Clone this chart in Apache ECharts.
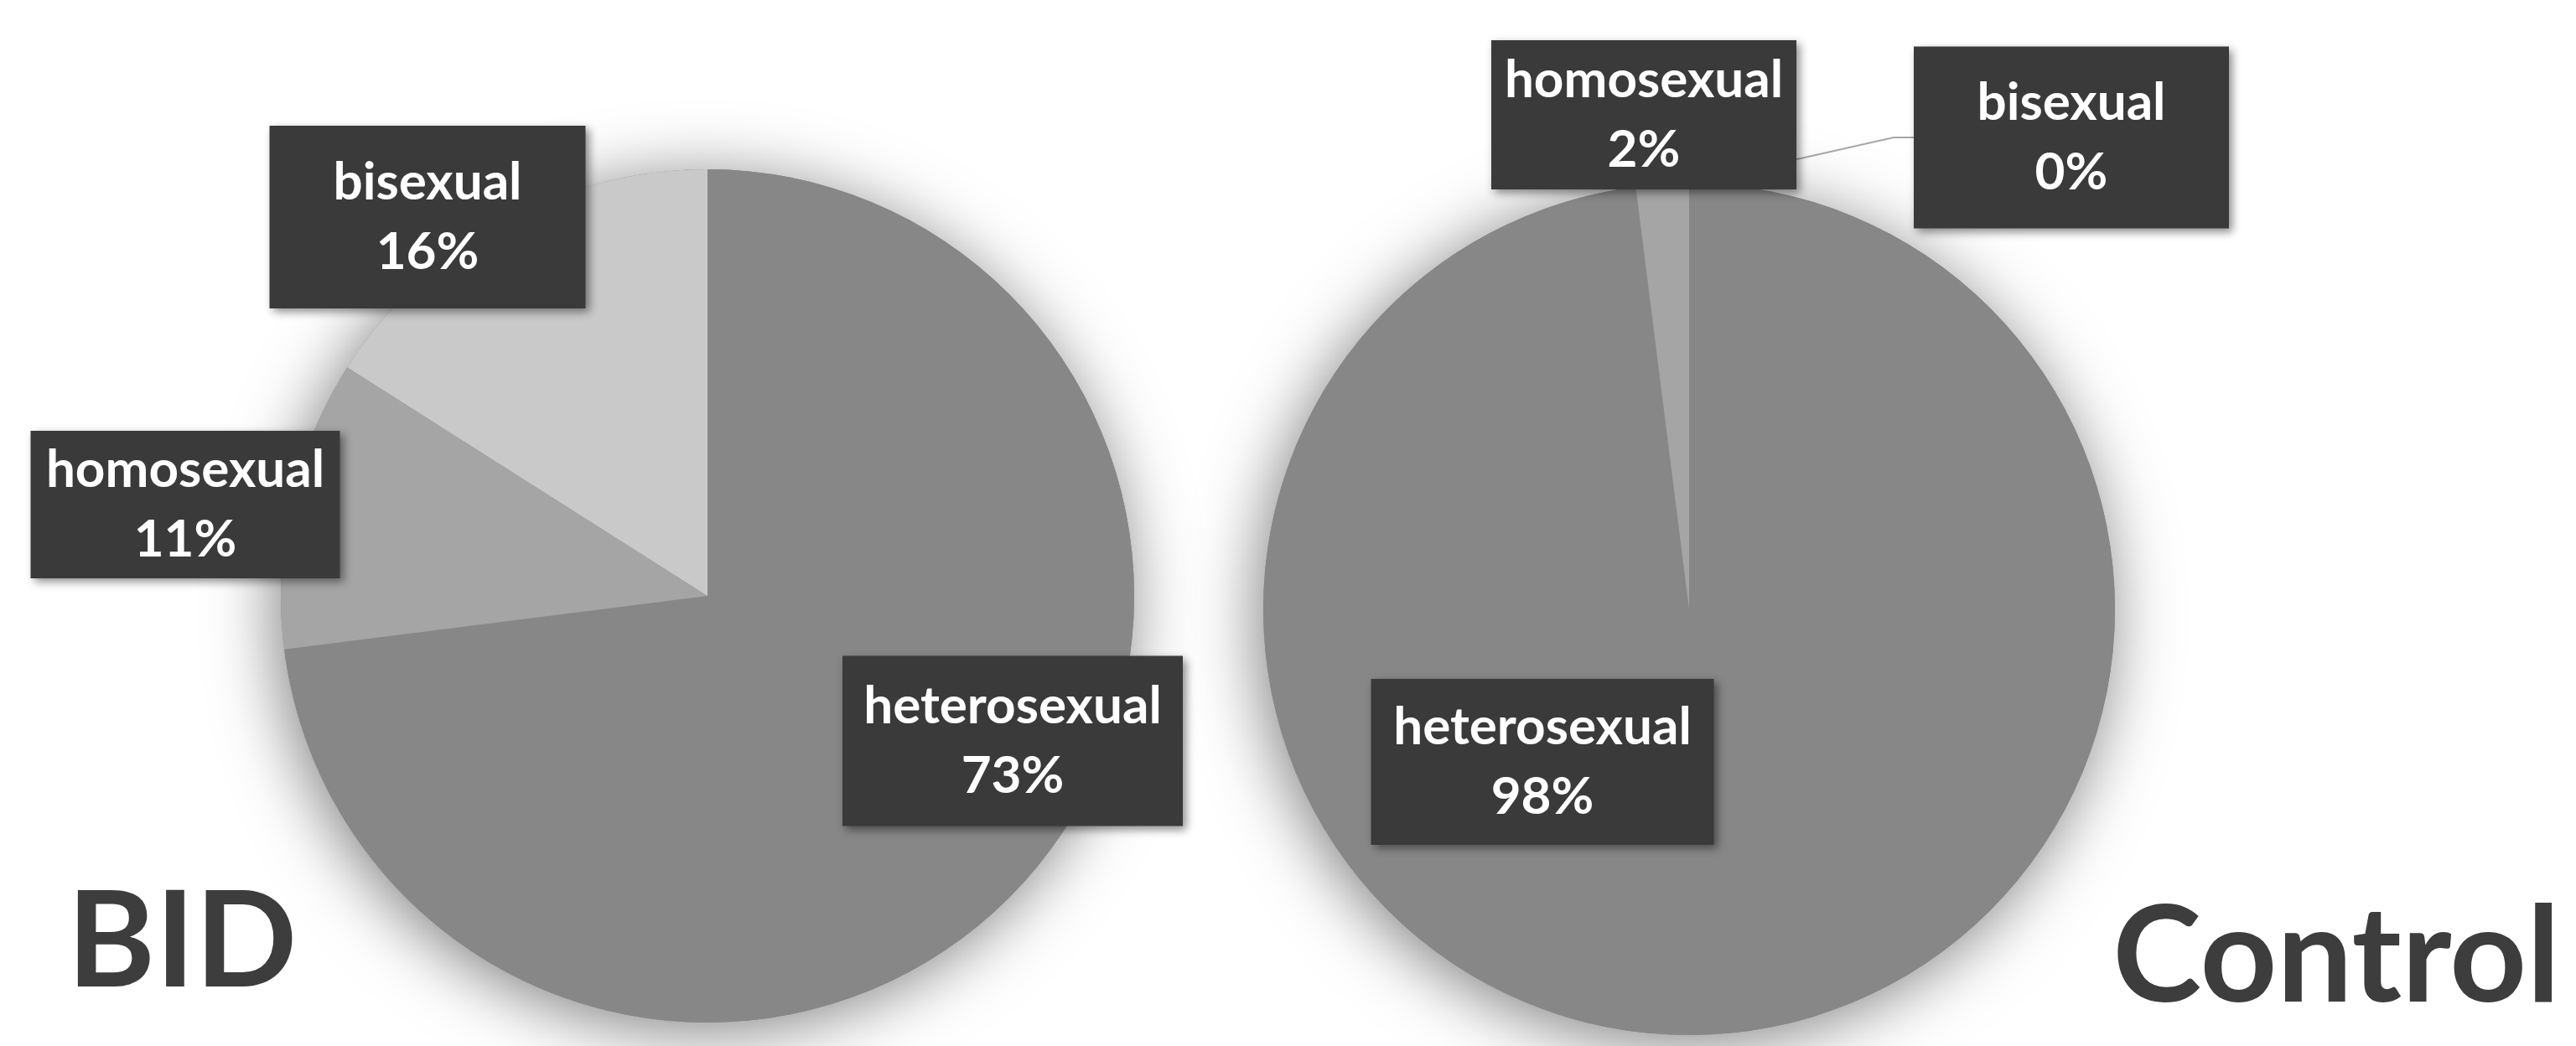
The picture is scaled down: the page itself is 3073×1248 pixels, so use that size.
<!DOCTYPE html>
<html>
<head>
<meta charset="utf-8">
<script src="https://cdn.jsdelivr.net/npm/echarts@6/dist/echarts.min.js"></script>
<style>
html,body{margin:0;padding:0;background:#ffffff;}
#chart{width:3073px;height:1248px;}
</style>
</head>
<body>
<div id="chart"></div>
<script>
// ---- data ----
const categories = ['heterosexual', 'homosexual', 'bisexual'];
const bidValues = [73, 11, 16];
const controlValues = [98, 2, 0];
const groupTitles = ['BID', 'Control'];

// ---- styles / layout ----
const sliceColors = ['#878787', '#a5a5a5', '#c9c9c9'];
const FONT = 'Lato';
const LINE_H = 83;
const pies = [
  { center: [844, 711], radius: 509 },
  { center: [2015, 727], radius: 508 }
];
const bidBoxes = [
  { cx: 1208, cy: 884, w: 406, h: 203 },
  { cx: 221,  cy: 602, w: 369, h: 176 },
  { cx: 510,  cy: 259, w: 377, h: 218 }
];
const controlBoxes = [
  { cx: 1840, cy: 909, w: 409, h: 198 },
  { cx: 1961, cy: 137, w: 364, h: 178 },
  { cx: 2471, cy: 164, w: 376, h: 217 }
];

function buildData(values, boxes, leaderIndex) {
  return categories.map((name, i) => ({
    name: name,
    value: values[i],
    itemStyle: { color: sliceColors[i] },
    label: {
      width: boxes[i].w,
      padding: [(boxes[i].h - 2 * LINE_H) / 2, 0]
    },
    labelLine: {
      show: i === leaderIndex,
      length: 10, length2: 10,
      lineStyle: { color: '#a6a6a6', width: 2 }
    }
  }));
}

const baseLabel = {
  show: true,
  position: 'outside',
  formatter: '{b}\n{d}%',
  color: '#ffffff',
  fontFamily: FONT,
  fontWeight: 'bold',
  fontSize: 62,
  lineHeight: LINE_H,
  align: 'center',
  backgroundColor: '#3a3a3a',
  shadowBlur: 10,
  shadowColor: 'rgba(0,0,0,0.45)',
  shadowOffsetX: 4,
  shadowOffsetY: 4
};

function makeLayout(boxes, pie, leaderIndex) {
  return function (p) {
    const b = boxes[p.dataIndex];
    const res = { x: b.cx, y: b.cy, align: 'center', verticalAlign: 'middle' };
    if (p.dataIndex === leaderIndex) {
      const lx = b.cx - b.w / 2;
      res.labelLinePoints = [[lx, b.cy], [lx - 24, b.cy], [pie.center[0], pie.center[1] - pie.radius]];
    }
    return res;
  };
}

function shadowSeries(values, pie) {
  const total = values.reduce((a, b) => a + b, 0);
  return {
    type: 'pie',
    silent: true,
    z: 1,
    center: pie.center,
    radius: pie.radius,
    label: { show: false },
    labelLine: { show: false },
    data: [{ value: total, name: 'bg' }],
    itemStyle: {
      color: sliceColors[0],
      shadowBlur: 80,
      shadowColor: 'rgba(0,0,0,0.5)',
      shadowOffsetX: -6,
      shadowOffsetY: 10
    },
    animation: false
  };
}

const titleStyle = { fontSize: 160, lineHeight: 160, fontWeight: 'bold', fontFamily: FONT, color: '#3d3d3d' };

const option = {
  backgroundColor: '#ffffff',
  animation: false,
  title: [
    { text: groupTitles[0], left: 80, top: 1045, padding: 0, textStyle: titleStyle },
    { text: groupTitles[1], right: 19, top: 1063, padding: 0, textStyle: titleStyle }
  ],
  series: [
    shadowSeries(bidValues, pies[0]),
    shadowSeries(controlValues, pies[1]),
    {
      type: 'pie', z: 2,
      center: pies[0].center, radius: pies[0].radius,
      startAngle: 90, clockwise: true,
      avoidLabelOverlap: false,
      label: baseLabel,
      labelLayout: makeLayout(bidBoxes, pies[0], -1),
      itemStyle: { borderWidth: 0 },
      emphasis: { disabled: true },
      data: buildData(bidValues, bidBoxes, -1)
    },
    {
      type: 'pie', z: 2,
      center: pies[1].center, radius: pies[1].radius,
      startAngle: 90, clockwise: true,
      avoidLabelOverlap: false,
      label: baseLabel,
      labelLayout: makeLayout(controlBoxes, pies[1], 2),
      itemStyle: { borderWidth: 0 },
      emphasis: { disabled: true },
      data: buildData(controlValues, controlBoxes, 2)
    }
  ]
};

const chart = echarts.init(document.getElementById('chart'), null, { renderer: 'canvas' });
chart.setOption(option);
</script>
</body>
</html>
